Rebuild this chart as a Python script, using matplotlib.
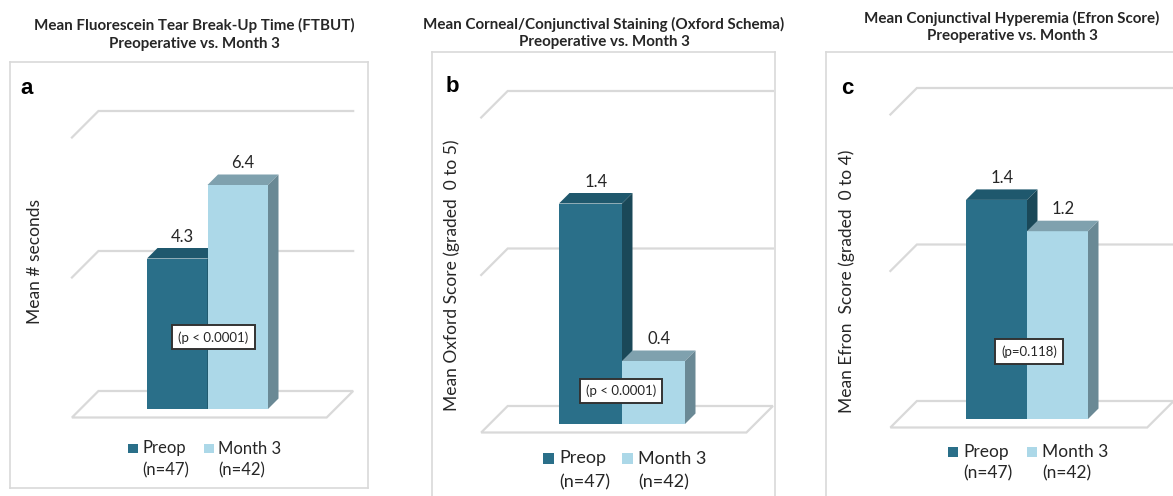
import matplotlib
matplotlib.use("Agg")
import matplotlib.pyplot as plt
from matplotlib.patches import Polygon, Rectangle

W, H = 1173, 496
FONT = ["Lato", "DejaVu Sans"]
plt.rcParams["font.family"] = FONT

# ---- data -------------------------------------------------------------
groups = ["Preop", "Month 3"]
group_n = ["(n=47)", "(n=42)"]

ftbut_means = [4.3, 6.4]
oxford_means = [1.4, 0.4]
efron_means = [1.4, 1.2]

titles = [
    "Mean Fluorescein Tear Break-Up Time (FTBUT)\nPreoperative vs. Month 3",
    "Mean Corneal/Conjunctival Staining (Oxford Schema)\nPreoperative vs. Month 3",
    "Mean Conjunctival Hyperemia (Efron Score)\nPreoperative vs. Month 3",
]
panel_letters = ["a", "b", "c"]
ylabels = [
    "Mean # seconds",
    "Mean Oxford Score (graded  0 to 5)",
    "Mean Efron  Score (graded  0 to 4)",
]
p_texts = ["(p < 0.0001)", "(p < 0.0001)", "(p=0.118)"]
grid_a = [0, 4, 8]
grid_b = [0, 1, 2]
grid_c = [0, 1, 2]

# ---- styling ----------------------------------------------------------
front_colors = ["#2a6f89", "#acd8e8"]
top_colors = ["#1f586d", "#7fa1ae"]
side_colors = ["#1a4858", "#6a8995"]
GRID = "#d9d9d9"
TEXT = "#262626"

# oblique depths (pixels along the 45 degree receding axis)
D_FLOOR = -8.5
D_BAR = 10.5
D_WALL = 18.0
WALL_L, WALL_R = -1.1, 3.11

layouts = [
    dict(box=(10, 62, 368, 488), x0=147, base=409, px_x=60.5, px_y=35.0,
         title=(194, 34.5), letter=(27, 88), ylab=(35, 261), p=(1.1, 2.05),
         leg_y=448.5, leg_gap=22, leg_x=(128, 204), leg_sq=9.5, leg_fs=12,
         ylab_fs=12.5),
    dict(box=(432, 52, 775, 520), x0=559, base=424, px_x=63.0, px_y=157.5,
         title=(604, 33), letter=(452, 86), ylab=(452, 275), p=(0.98, 0.21),
         leg_y=458.5, leg_gap=24, leg_x=(543, 622), leg_sq=11, leg_fs=13,
         ylab_fs=12.5),
    dict(box=(826, 52, 1190, 520), x0=966, base=419, px_x=61.0, px_y=156.5,
         title=(1012, 27), letter=(847, 88), ylab=(847, 281), p=(1.03, 0.43),
         leg_y=452, leg_gap=21.5, leg_x=(948, 1027), leg_sq=10, leg_fs=12.5,
         ylab_fs=12.5),
]
series = [ftbut_means, oxford_means, efron_means]
grids = [grid_a, grid_b, grid_c]

fig = plt.figure(figsize=(W / 100, H / 100), dpi=100)


def fx(x):
    return x / W


def fy(y):
    return 1 - y / H


for k, (values, grid, lay) in enumerate(zip(series, grids, layouts)):
    L, T, R, B = lay["box"]
    x0, base, px_x, px_y = lay["x0"], lay["base"], lay["px_x"], lay["px_y"]
    ax = fig.add_axes([fx(L), fy(B), (R - L) / W, (B - T) / H])
    ax.set_xlim((L - x0) / px_x, (R - x0) / px_x)
    ax.set_ylim((base - B) / px_y, (base - T) / px_y)
    ax.set_xticks([])
    ax.set_yticks([])
    for s in ax.spines.values():
        s.set_color(GRID)
        s.set_linewidth(1.2)

    def depth(d):
        return d / px_x, d / px_y

    ffx, ffy = depth(D_FLOOR)
    wx, wy = depth(D_WALL)
    bx, by = depth(D_BAR)

    # floor
    floor = Polygon([(WALL_L + ffx, grid[0] + ffy), (WALL_R + ffx, grid[0] + ffy),
                     (WALL_R + wx, grid[0] + wy), (WALL_L + wx, grid[0] + wy)],
                    closed=True, fill=False, ec=GRID, lw=1.6, zorder=1)
    ax.add_patch(floor)
    # wall gridlines
    for g in grid[1:]:
        ax.plot([WALL_L + ffx, WALL_L + wx, WALL_R + wx],
                [g + ffy, g + wy, g + wy], color=GRID, lw=1.6, zorder=1,
                solid_joinstyle="miter")

    # 3-D bars
    for i, v in enumerate(values):
        z = 3 + i
        ax.add_patch(Rectangle((i, 0), 1, v, fc=front_colors[i], ec="none", zorder=z))
        ax.add_patch(Polygon([(i, v), (i + 1, v), (i + 1 + bx, v + by), (i + bx, v + by)],
                             closed=True, fc=top_colors[i], ec="none", zorder=z))
        ax.add_patch(Polygon([(i + 1, 0), (i + 1 + bx, by), (i + 1 + bx, v + by), (i + 1, v)],
                             closed=True, fc=side_colors[i], ec="none", zorder=z))
        ax.annotate(f"{v:.1f}", xy=(i + 0.5 + bx / 2, v + by), xytext=(0, 2.5),
                    textcoords="offset points", ha="center", va="bottom",
                    fontsize=12, color=TEXT, zorder=10)

    # significance box
    ax.text(lay["p"][0], lay["p"][1], p_texts[k], ha="center", va="center",
            fontsize=9.5, color=TEXT, zorder=10,
            bbox=dict(boxstyle="square,pad=0.45", fc="white", ec="#333333", lw=1.4))

    # titles, letters, axis label
    fig.text(fx(lay["title"][0]), fy(lay["title"][1]), titles[k], ha="center",
             va="center", fontsize=10.9, fontweight="bold", color=TEXT,
             linespacing=1.3)
    fig.text(fx(lay["letter"][0]), fy(lay["letter"][1]), panel_letters[k],
             ha="center", va="center", fontsize=16, fontweight="bold",
             family=["Liberation Sans", "DejaVu Sans"], color="black")
    fig.text(fx(lay["ylab"][0]), fy(lay["ylab"][1]), ylabels[k], rotation=90,
             ha="center", va="center", fontsize=lay["ylab_fs"], color=TEXT)

    # legend
    sq = lay["leg_sq"]
    for i, gx in enumerate(lay["leg_x"]):
        fig.add_artist(Rectangle((fx(gx), fy(lay["leg_y"] + sq / 2)), sq / W, sq / H,
                                 transform=fig.transFigure, fc=front_colors[i], ec="none"))
        fig.text(fx(gx + sq + 5), fy(lay["leg_y"]), groups[i], ha="left",
                 va="center", fontsize=lay["leg_fs"], color=TEXT)
        fig.text(fx(gx + sq + 5), fy(lay["leg_y"] + lay["leg_gap"]), group_n[i],
                 ha="left", va="center", fontsize=lay["leg_fs"], color=TEXT)

fig.savefig("out.png", dpi=100)
